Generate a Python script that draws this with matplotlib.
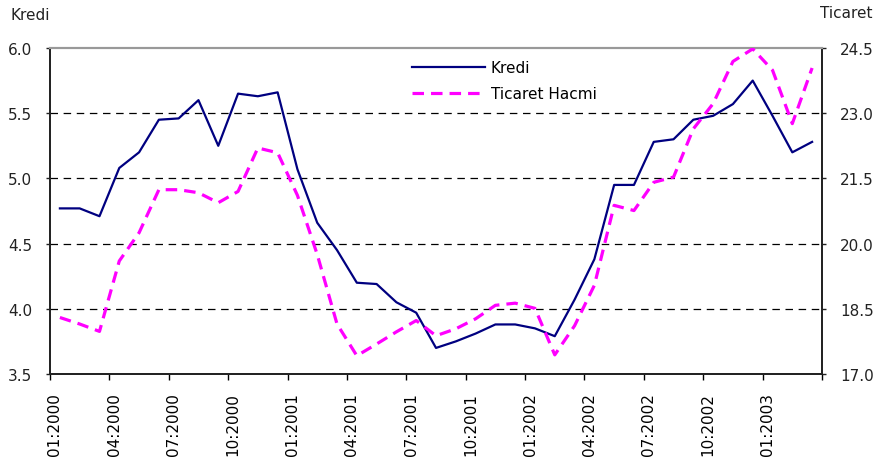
import numpy as np
import matplotlib
matplotlib.use("Agg")
import matplotlib.pyplot as plt
from matplotlib import rcParams

# Aylik seriler, 01:2000 - 03:2003
kredi = [4.77, 4.77, 4.71, 5.08, 5.20, 5.45, 5.46, 5.60, 5.25, 5.65,
         5.63, 5.66, 5.07, 4.66, 4.45, 4.20, 4.19, 4.05, 3.97, 3.70,
         3.75, 3.81, 3.88, 3.88, 3.85, 3.79, 4.07, 4.38, 4.95, 4.95,
         5.28, 5.30, 5.45, 5.48, 5.57, 5.75, 5.48, 5.20, 5.28]
ticaret_hacmi = [18.30, 18.15, 17.98, 19.60, 20.25, 21.24, 21.24, 21.17, 20.94, 21.20,
                 22.20, 22.09, 21.11, 19.75, 18.15, 17.42, 17.69, 17.97, 18.23, 17.88,
                 18.04, 18.27, 18.58, 18.63, 18.51, 17.44, 18.11, 19.04, 20.88, 20.76,
                 21.41, 21.53, 22.64, 23.22, 24.19, 24.48, 23.99, 22.76, 24.04]
donem_etiketleri = ["01:2000", "04:2000", "07:2000", "10:2000",
                    "01:2001", "04:2001", "07:2001", "10:2001",
                    "01:2002", "04:2002", "07:2002", "10:2002", "01:2003"]
sol_eksen = [3.5, 4.0, 4.5, 5.0, 5.5, 6.0]
sag_eksen = [17.0, 18.5, 20.0, 21.5, 23.0, 24.5]

rcParams['font.family'] = 'DejaVu Sans'
rcParams['font.size'] = 11
rcParams['axes.edgecolor'] = '#222222'

figure = plt.figure(figsize=(8.77, 4.64), dpi=100)
figure.subplots_adjust(left=50 / 877, right=822 / 877, bottom=1 - 375 / 464, top=1 - 49 / 464)

ax = figure.add_subplot(1, 1, 1)
ax2 = ax.twinx()

x = np.arange(len(kredi))

# yatay kesik cizgili izgara
for y in sol_eksen[1:-1]:
    ax.axhline(y, color='black', lw=0.9, dashes=(6, 4.5), zorder=1)

ax.plot(x, kredi, color='#000080', lw=1.6, label='Kredi', zorder=3)
ax2.plot(x, ticaret_hacmi, color='#FF00FF', lw=2.3, dashes=(3.6, 2.2), label='Ticaret Hacmi', zorder=3)

ax.set_xlim(-0.5, len(kredi) - 0.5)
ax.set_ylim(sol_eksen[0], sol_eksen[-1])
ax2.set_ylim(sag_eksen[0], sag_eksen[-1])
ax.set_yticks(sol_eksen)
ax.set_yticklabels(["%.1f" % v for v in sol_eksen])
ax2.set_yticks(sag_eksen)
ax2.set_yticklabels(["%.1f" % v for v in sag_eksen])

# ceyrek sinirlarinda tik, etiketler donem basinda
ax.set_xticks(np.arange(-0.5, len(kredi), 3))
ax.set_xticklabels([])
ax.set_xticks(np.arange(0, len(kredi), 3) - 0.25, minor=True)
ax.set_xticklabels(donem_etiketleri, minor=True, rotation=90)
ax.tick_params(axis='x', which='major', length=4, width=1, direction='out')
ax.tick_params(axis='x', which='minor', length=0, pad=13)
ax.tick_params(axis='y', length=3, width=1, pad=10, colors='#222222')
ax2.tick_params(axis='y', length=3, width=1, pad=10, colors='#222222')

for a in (ax, ax2):
    a.spines['top'].set_color('#999999')
    a.spines['top'].set_linewidth(1.5)
    for s in ('left', 'right', 'bottom'):
        a.spines[s].set_linewidth(1.3)

figure.text(10 / 877, 1 - 16 / 464, "Kredi", ha='left', va='center', fontsize=11, color='#222222')
figure.text(873 / 877, 1 - 14 / 464, "Ticaret", ha='right', va='center', fontsize=11, color='#222222')

h1, l1 = ax.get_legend_handles_labels()
h2, l2 = ax2.get_legend_handles_labels()
ax2.legend(h1 + h2, l1 + l2, loc='upper left', frameon=False, borderpad=0, borderaxespad=0,
           handlelength=4.8, handletextpad=0.35, labelspacing=0.75,
           bbox_to_anchor=(412 / 877, 1 - 61 / 464), bbox_transform=figure.transFigure)

plt.savefig("out.png", format="png", dpi=100)
